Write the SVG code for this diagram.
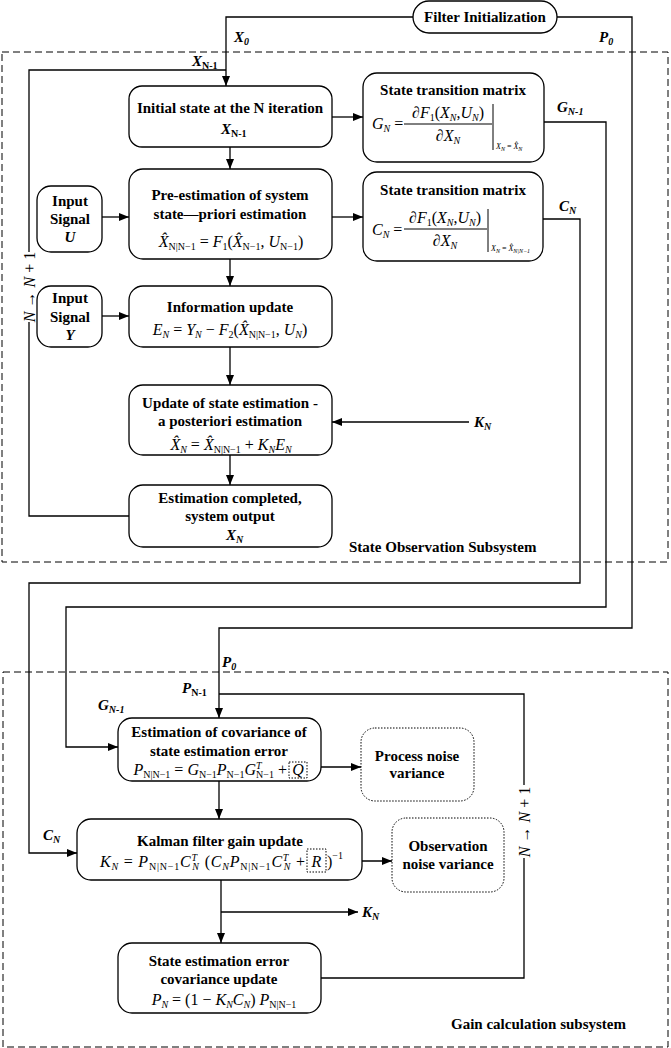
<svg xmlns="http://www.w3.org/2000/svg" width="671" height="1048" viewBox="0 0 671 1048">
<defs>
<style>
.box{fill:#fff;stroke:#000;stroke-width:1.3}
.dot{fill:#fff;stroke:#000;stroke-width:1;stroke-dasharray:1.5 1.5}
.dash{fill:none;stroke:#000;stroke-width:1;stroke-dasharray:7 4}
.w{fill:none;stroke:#000;stroke-width:1.3}
.t{font-family:"Liberation Serif","Times New Roman",serif;font-weight:bold;font-size:15px;text-anchor:middle;fill:#000}
.lb{font-family:"Liberation Serif","Times New Roman",serif;font-weight:bold;font-style:italic;font-size:15px;fill:#000}
.m{font-family:"Liberation Serif","Times New Roman",serif;font-style:italic;font-size:16px;fill:#000}
.s{font-size:10px}
.xs{font-size:8px}
.u{font-style:normal}
</style>
<marker id="ar" markerWidth="10" markerHeight="8" refX="10" refY="4" orient="auto" markerUnits="userSpaceOnUse"><path d="M0,0 L10,4 L0,8 z" fill="#000"/></marker>
</defs>
<rect width="671" height="1048" fill="#fff"/>

<g id="subsystems">
<rect class="dash" x="2" y="52" width="666" height="510"/>
<rect class="dash" x="3" y="672" width="665" height="375"/>
<text class="t" x="349" y="552" style="text-anchor:start">State Observation Subsystem</text>
<text class="t" x="451" y="1029" style="text-anchor:start">Gain calculation subsystem</text>
</g>

<g id="connectors">
<path class="w" d="M413,17 H226 V86" marker-end="url(#ar)"/>
<path class="w" d="M557,17 H632 V628 H219 V718" marker-end="url(#ar)"/>
<path class="w" d="M129,516 H29 V322"/>
<path class="w" d="M29,252 V70 H226"/>
<path class="w" d="M332,117 H363" marker-end="url(#ar)"/>
<path class="w" d="M230,147 V169" marker-end="url(#ar)"/>
<path class="w" d="M102,217 H129" marker-end="url(#ar)"/>
<path class="w" d="M332,217 H363" marker-end="url(#ar)"/>
<path class="w" d="M230,259 V286" marker-end="url(#ar)"/>
<path class="w" d="M102,316 H129" marker-end="url(#ar)"/>
<path class="w" d="M230,347 V385" marker-end="url(#ar)"/>
<path class="w" d="M469,422 H332" marker-end="url(#ar)"/>
<path class="w" d="M230,455 V485" marker-end="url(#ar)"/>
<path class="w" d="M544,122 H606 V607 H66 V747 H118" marker-end="url(#ar)"/>
<path class="w" d="M543,219 H580 V583 H29 V853 H77" marker-end="url(#ar)"/>
<path class="w" d="M321,978 H524 V858"/>
<path class="w" d="M524,785 V694 H219"/>
<path class="w" d="M219,781 V819" marker-end="url(#ar)"/>
<path class="w" d="M307,767 H361" marker-end="url(#ar)"/>
<path class="w" d="M326,861 H392" marker-end="url(#ar)"/>
<path class="w" d="M221,880 V943" marker-end="url(#ar)"/>
<path class="w" d="M221,912 H358" marker-end="url(#ar)"/>
<text class="m" transform="translate(35,287) rotate(-90)" text-anchor="middle">N <tspan class="u">→</tspan> N <tspan class="u">+ 1</tspan></text>
<text class="m" transform="translate(530,822) rotate(-90)" text-anchor="middle">N <tspan class="u">→</tspan> N <tspan class="u">+ 1</tspan></text>
<text class="lb" x="234" y="42">X<tspan class="s" dy="3">0</tspan></text>
<text class="lb" x="599" y="42">P<tspan class="s" dy="3">0</tspan></text>
<text class="lb" x="192" y="66">X<tspan class="s" dy="3" style="font-style:normal">N-1</tspan></text>
<text class="lb" x="557" y="112">G<tspan class="s" dy="3">N-1</tspan></text>
<text class="lb" x="559" y="211">C<tspan class="s" dy="3">N</tspan></text>
<text class="lb" x="474" y="427">K<tspan class="s" dy="3">N</tspan></text>
<text class="lb" x="222" y="667">P<tspan class="s" dy="3">0</tspan></text>
<text class="lb" x="182" y="693">P<tspan class="s" dy="3" style="font-style:normal">N-1</tspan></text>
<text class="lb" x="98" y="710">G<tspan class="s" dy="3">N-1</tspan></text>
<text class="lb" x="43" y="840">C<tspan class="s" dy="3">N</tspan></text>
<text class="lb" x="362" y="917">K<tspan class="s" dy="3">N</tspan></text>
</g>

<g id="filter-init">
<rect class="box" x="413" y="1" width="144" height="32" rx="16"/>
<text class="t" x="485" y="22">Filter Initialization</text>
</g>

<g id="initial-state">
<rect class="box" x="129" y="86" width="203" height="61" rx="13"/>
<text class="t" x="230" y="113">Initial state at the N iteration</text>
<text class="lb" x="221" y="134">X<tspan class="s" dy="3" style="font-style:normal">N-1</tspan></text>
</g>

<g id="stm-g">
<rect class="box" x="363" y="73" width="181" height="89" rx="14"/>
<text class="t" x="453" y="95">State transition matrix</text>
<text class="m" x="372" y="129">G<tspan class="s" dy="3">N</tspan><tspan class="u" dy="-3"> =</tspan></text>
<text class="m" x="448" y="118" text-anchor="middle">∂F<tspan class="s u" dy="3">1</tspan><tspan class="u" dy="-3">(</tspan>X<tspan class="s" dy="3">N</tspan><tspan class="u" dy="-3">,</tspan>U<tspan class="s" dy="3">N</tspan><tspan class="u" dy="-3">)</tspan></text>
<path class="w" d="M404,124 H492" style="stroke-width:1"/>
<text class="m" x="448" y="141" text-anchor="middle">∂X<tspan class="s" dy="3">N</tspan></text>
<path class="w" d="M493,104 V150" style="stroke-width:1"/>
<text class="m xs" x="496" y="149">X<tspan dy="2" style="font-size:6px">N</tspan><tspan class="u" dy="-2"> = </tspan>X̂<tspan dy="2" style="font-size:6px">N</tspan></text>
</g>

<g id="input-u">
<rect class="box" x="37" y="186" width="65" height="66" rx="14"/>
<text class="t" x="70" y="206">Input</text>
<text class="t" x="70" y="224">Signal</text>
<text class="lb" x="70" y="242" text-anchor="middle">U</text>
</g>

<g id="pre-estimation">
<rect class="box" x="129" y="169" width="203" height="90" rx="14"/>
<text class="t" x="230" y="200">Pre-estimation of system</text>
<text class="t" x="230" y="219">state—priori estimation</text>
<text class="m" x="231" y="247" text-anchor="middle">X̂<tspan class="s u" dy="3">N|N−1</tspan><tspan class="u" dy="-3"> = </tspan>F<tspan class="s u" dy="3">1</tspan><tspan class="u" dy="-3">(</tspan>X̂<tspan class="s u" dy="3">N−1</tspan><tspan class="u" dy="-3">, </tspan>U<tspan class="s u" dy="3">N−1</tspan><tspan class="u" dy="-3">)</tspan></text>
</g>

<g id="stm-c">
<rect class="box" x="363" y="172" width="180" height="89" rx="14"/>
<text class="t" x="453" y="195">State transition matrix</text>
<text class="m" x="372" y="235">C<tspan class="s" dy="3">N</tspan><tspan class="u" dy="-3"> =</tspan></text>
<text class="m" x="445" y="223" text-anchor="middle">∂F<tspan class="s u" dy="3">1</tspan><tspan class="u" dy="-3">(</tspan>X<tspan class="s" dy="3">N</tspan><tspan class="u" dy="-3">,</tspan>U<tspan class="s" dy="3">N</tspan><tspan class="u" dy="-3">)</tspan></text>
<path class="w" d="M404,229 H487" style="stroke-width:1"/>
<text class="m" x="445" y="246" text-anchor="middle">∂X<tspan class="s" dy="3">N</tspan></text>
<path class="w" d="M488,209 V252" style="stroke-width:1"/>
<text class="m xs" x="491" y="251">X<tspan dy="2" style="font-size:6px">N</tspan><tspan class="u" dy="-2"> = </tspan>X̂<tspan dy="2" style="font-size:6px">N|N−1</tspan></text>
</g>

<g id="input-y">
<rect class="box" x="37" y="286" width="65" height="61" rx="14"/>
<text class="t" x="70" y="303">Input</text>
<text class="t" x="70" y="322">Signal</text>
<text class="lb" x="70" y="340" text-anchor="middle">Y</text>
</g>

<g id="information-update">
<rect class="box" x="129" y="286" width="203" height="61" rx="14"/>
<text class="t" x="230" y="312">Information update</text>
<text class="m" x="230" y="335" text-anchor="middle">E<tspan class="s" dy="3">N</tspan><tspan class="u" dy="-3"> = </tspan>Y<tspan class="s" dy="3">N</tspan><tspan class="u" dy="-3"> − </tspan>F<tspan class="s u" dy="3">2</tspan><tspan class="u" dy="-3">(</tspan>X̂<tspan class="s u" dy="3">N|N−1</tspan><tspan class="u" dy="-3">, </tspan>U<tspan class="s" dy="3">N</tspan><tspan class="u" dy="-3">)</tspan></text>
</g>

<g id="update-estimation">
<rect class="box" x="129" y="385" width="203" height="70" rx="14"/>
<text class="t" x="230" y="408">Update of state estimation -</text>
<text class="t" x="230" y="426">a posteriori estimation</text>
<text class="m" x="231" y="450" text-anchor="middle">X̂<tspan class="s" dy="3">N</tspan><tspan class="u" dy="-3"> = </tspan>X̂<tspan class="s u" dy="3">N|N−1</tspan><tspan class="u" dy="-3"> + </tspan>K<tspan class="s" dy="3">N</tspan><tspan dy="-3">E</tspan><tspan class="s" dy="3">N</tspan></text>
</g>

<g id="estimation-completed">
<rect class="box" x="129" y="485" width="203" height="62" rx="14"/>
<text class="t" x="230" y="503">Estimation completed,</text>
<text class="t" x="230" y="521">system output</text>
<text class="lb" x="226" y="540">X<tspan class="s" dy="3">N</tspan></text>
</g>

<g id="covariance-estimation">
<rect class="box" x="118" y="718" width="203" height="63" rx="14"/>
<text class="t" x="219" y="737">Estimation of covariance of</text>
<text class="t" x="219" y="756">state estimation error</text>
<text class="m" x="287" y="775" text-anchor="end">P<tspan class="s u" dy="3">N|N−1</tspan><tspan class="u" dy="-3"> = </tspan>G<tspan class="s u" dy="3">N−1</tspan><tspan dy="-3">P</tspan><tspan class="s u" dy="3">N−1</tspan><tspan dy="-3">G</tspan><tspan class="s" dy="-6">T</tspan><tspan class="s u" dx="-5.5" dy="9">N−1</tspan><tspan class="u" dy="-3"> +</tspan></text>
<rect class="dot" x="289" y="762" width="18" height="16" style="fill:none"/>
<text class="m" x="298" y="775" text-anchor="middle">Q</text>
</g>

<g id="process-noise">
<rect class="dot" x="361" y="728" width="113" height="73" rx="14"/>
<text class="t" x="417" y="761">Process noise</text>
<text class="t" x="417" y="778">variance</text>
</g>

<g id="kalman-gain">
<rect class="box" x="77" y="819" width="285" height="61" rx="14"/>
<text class="t" x="220" y="846">Kalman filter gain update</text>
<text class="m" x="100" y="867" textLength="205" lengthAdjust="spacing">K<tspan class="s" dy="3">N</tspan><tspan class="u" dy="-3"> = </tspan>P<tspan class="s u" dy="3">N|N−1</tspan><tspan dy="-3">C</tspan><tspan class="s" dy="-6">T</tspan><tspan class="s" dx="-5.5" dy="9">N</tspan><tspan class="u" dy="-3"> (</tspan>C<tspan class="s" dy="3">N</tspan><tspan dy="-3">P</tspan><tspan class="s u" dy="3">N|N−1</tspan><tspan dy="-3">C</tspan><tspan class="s" dy="-6">T</tspan><tspan class="s" dx="-5.5" dy="9">N</tspan><tspan class="u" dy="-3"> +</tspan></text>
<rect class="dot" x="307" y="849" width="19" height="23" style="fill:none"/>
<text class="m" x="316.5" y="867" text-anchor="middle">R</text>
<text class="m u" x="327" y="867">)<tspan class="s" dy="-8">−1</tspan></text>
</g>

<g id="observation-noise">
<rect class="dot" x="392" y="818" width="112" height="74" rx="14"/>
<text class="t" x="448" y="851">Observation</text>
<text class="t" x="448" y="869">noise variance</text>
</g>

<g id="covariance-update">
<rect class="box" x="118" y="943" width="203" height="70" rx="14"/>
<text class="t" x="219" y="966">State estimation error</text>
<text class="t" x="219" y="984">covariance update</text>
<text class="m" x="224" y="1005" text-anchor="middle">P<tspan class="s" dy="3">N</tspan><tspan class="u" dy="-3"> = (1 − </tspan>K<tspan class="s" dy="3">N</tspan><tspan dy="-3">C</tspan><tspan class="s" dy="3">N</tspan><tspan class="u" dy="-3">) </tspan>P<tspan class="s u" dy="3">N|N−1</tspan></text>
</g>
</svg>
